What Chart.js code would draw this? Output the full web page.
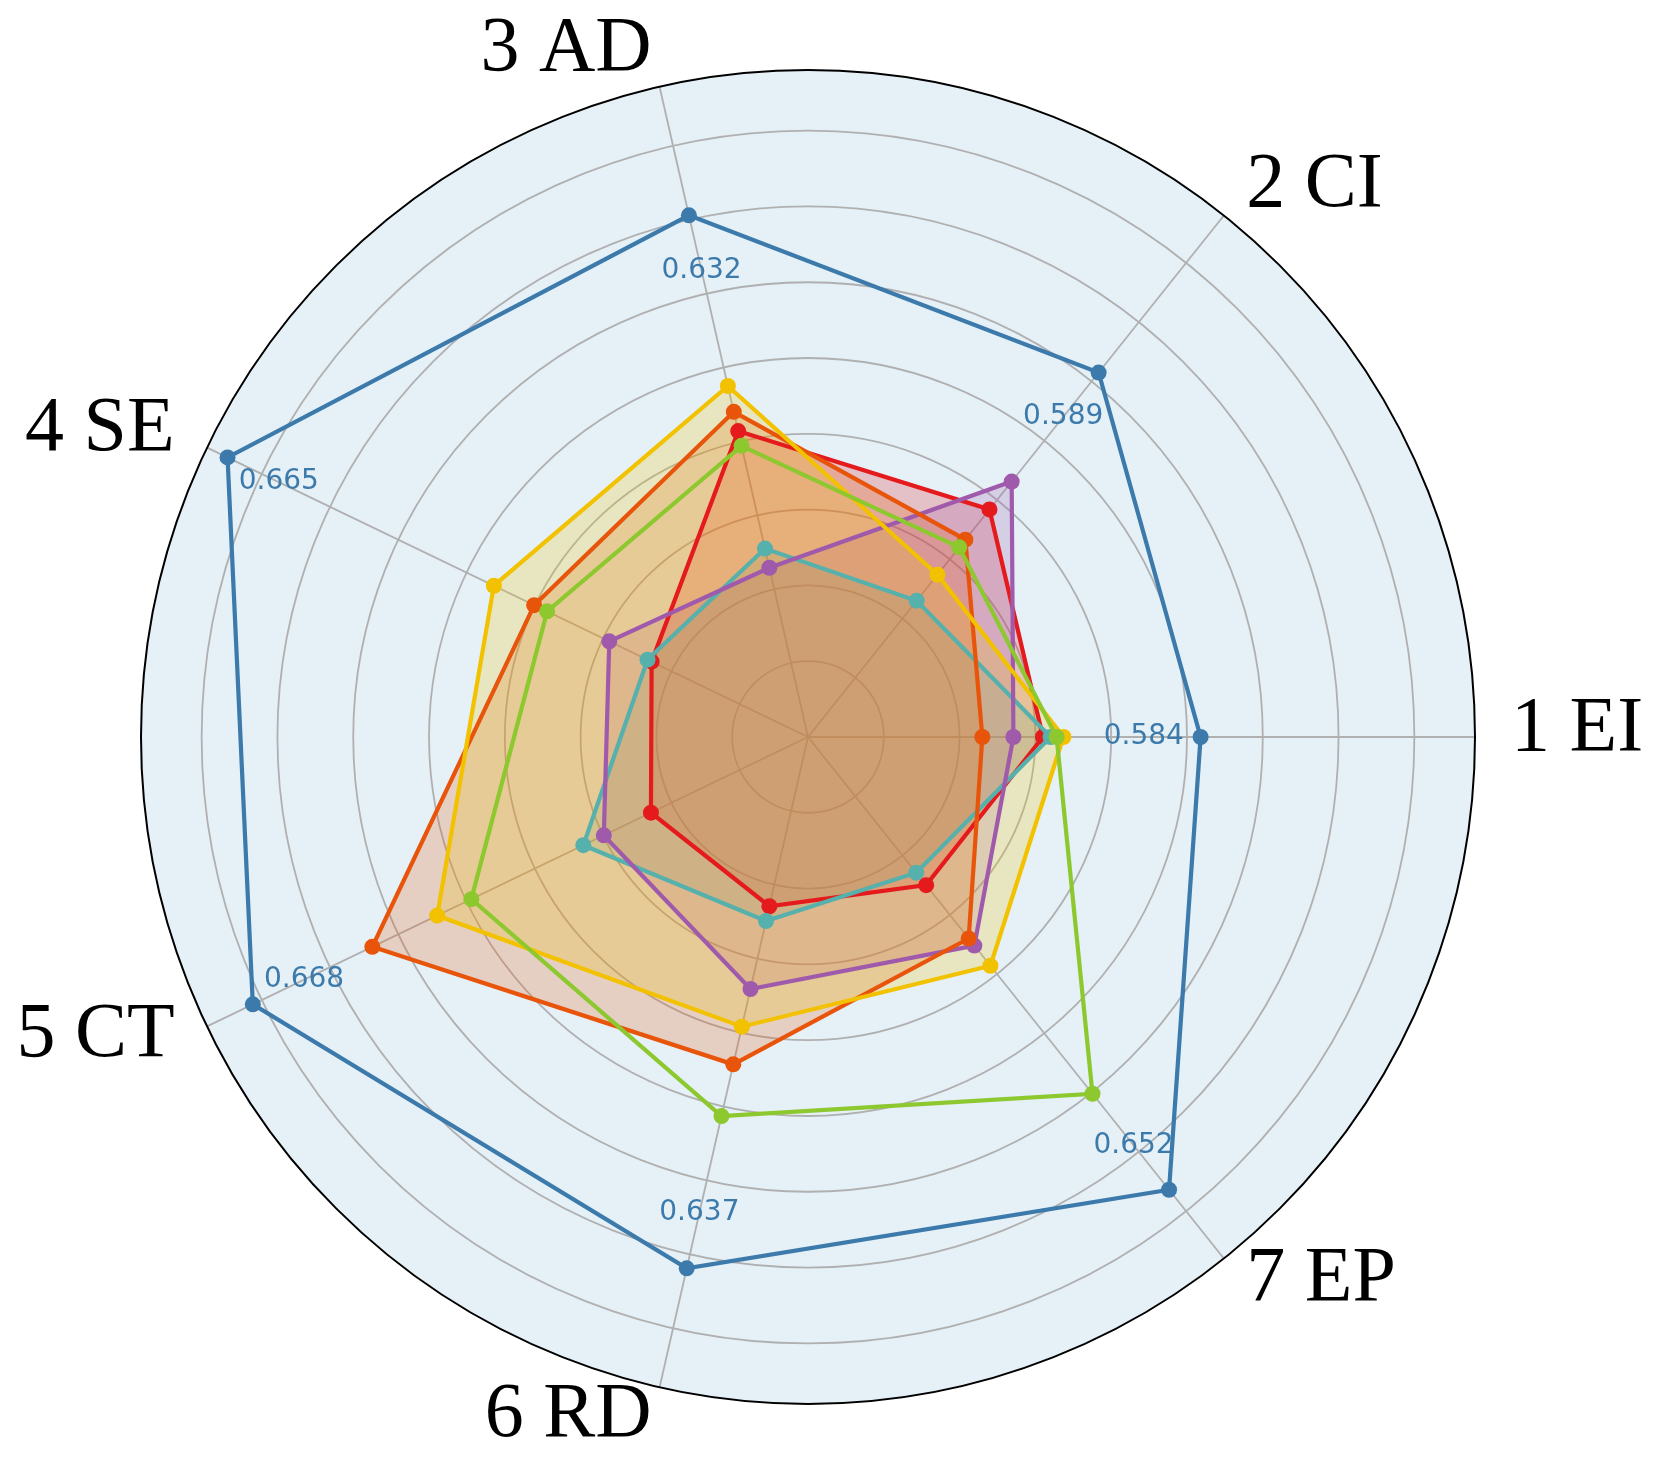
<!DOCTYPE html>
<html>
<head>
<meta charset="utf-8">
<script src="https://cdn.jsdelivr.net/npm/chart.js@4.4.1/dist/chart.umd.min.js"></script>
<style>
  html, body { margin: 0; padding: 0; background: #ffffff; }
  #wrap { position: relative; width: 1660px; height: 1474px; }
</style>
</head>
<body>
<div id="wrap"><canvas id="c"></canvas></div>
<script>
// Axis categories (counter-clockwise from the right, as in the picture)
const categories = ['1 EI', '2 CI', '3 AD', '4 SE', '5 CT', '6 RD', '7 EP'];
// Per-axis value labels shown in blue
const tickLabels = ['0.584', '0.589', '0.632', '0.665', '0.668', '0.637', '0.652'];
// Radial values (in grid-ring units), order as categories
const blueSeries   = [5.18, 6.15, 7.06, 8.50, 8.13, 7.19, 7.64];
const redSeries    = [3.10, 3.84, 4.14, 2.29, 2.30, 2.29, 2.50];
const tealSeries   = [3.20, 2.30, 2.55, 2.35, 3.29, 2.49, 2.29];
const purpleSeries = [2.71, 4.31, 2.29, 2.91, 2.99, 3.41, 3.52];
const orangeSeries = [2.30, 3.33, 4.40, 4.01, 6.38, 4.43, 3.40];
const yellowSeries = [3.37, 2.74, 4.75, 4.60, 5.43, 3.92, 3.86];
const greenSeries  = [3.28, 3.20, 3.94, 3.82, 4.93, 5.13, 6.02];
const radialMax = 8.8;
const labelInset = 0.75;

// Chart.js goes clockwise; reorder so the picture runs counter-clockwise
const chartOrder = [0, 6, 5, 4, 3, 2, 1];
const reorder = arr => chartOrder.map(i => arr[i]);

function rgba(hex, a) {
  const n = parseInt(hex.slice(1), 16);
  return `rgba(${(n >> 16) & 255},${(n >> 8) & 255},${n & 255},${a})`;
}
const seriesDefs = [
  { data: blueSeries,   color: '#3b7aab', fillA: 0,    order: 7 },
  { data: redSeries,    color: '#e41a1c', fillA: 0.22, order: 6 },
  { data: tealSeries,   color: '#56b1ad', fillA: 0.22, order: 5 },
  { data: purpleSeries, color: '#a05aab', fillA: 0.22, order: 4 },
  { data: orangeSeries, color: '#e8550a', fillA: 0.22, order: 3 },
  { data: yellowSeries, color: '#f2c200', fillA: 0.22, order: 2 },
  { data: greenSeries,  color: '#8cc82e', fillA: 0,    order: 1 },
];
const datasets = seriesDefs.map(d => ({
  data: reorder(d.data),
  borderColor: d.color,
  backgroundColor: rgba(d.color, d.fillA),
  pointBackgroundColor: d.color,
  pointBorderColor: d.color,
  pointBorderWidth: 0,
  pointRadius: 8,
  borderWidth: 4.2,
  fill: d.fillA > 0,
  order: d.order,
}));

const decor = {
  id: 'decor',
  beforeDraw(chart) {
    const s = chart.scales.r, c = chart.ctx;
    c.save();
    c.beginPath();
    c.arc(s.xCenter, s.yCenter, s.drawingArea, 0, Math.PI * 2);
    c.fillStyle = '#e5f0f7';
    c.fill();
    c.restore();
  },
  beforeDatasetsDraw(chart) {
    const s = chart.scales.r, c = chart.ctx;
    c.save();
    c.beginPath();
    c.arc(s.xCenter, s.yCenter, s.drawingArea, 0, Math.PI * 2);
    c.strokeStyle = '#000000';
    c.lineWidth = 2;
    c.stroke();
    c.restore();
  },
  afterDatasetsDraw(chart) {
    const s = chart.scales.r, c = chart.ctx;
    c.save();
    // blue value labels along each axis
    c.font = '28px "DejaVu Sans"';
    c.fillStyle = '#3b7aab';
    c.textAlign = 'center';
    c.textBaseline = 'middle';
    categories.forEach((cat, k) => {
      const ci = chartOrder.indexOf(k);
      const p = s.getPointPosition(ci, s.getDistanceFromCenterForValue(blueSeries[k] - labelInset));
      c.fillText(tickLabels[k], p.x, p.y);
    });
    // axis category labels
    c.font = '78px "Liberation Serif"';
    c.fillStyle = '#000000';
    categories.forEach((cat, k) => {
      const ci = chartOrder.indexOf(k);
      const p = s.getPointPosition(ci, s.drawingArea + 36);
      c.textAlign = p.x > s.xCenter + 1 ? 'left' : (p.x < s.xCenter - 1 ? 'right' : 'center');
      const dy = p.y < s.yCenter - 5 ? -2 : -7;
      c.fillText(cat, p.x, p.y + dy);
    });
    c.restore();
  }
};

new Chart(document.getElementById('c'), {
  type: 'radar',
  data: { labels: reorder(categories), datasets },
  options: {
    responsive: true,
    maintainAspectRatio: false,
    animation: false,
    events: [],
    layout: { padding: { left: 141, right: 185, top: 70, bottom: 70 } },
    plugins: {
      legend: { display: false },
      tooltip: { enabled: false },
      title: { display: false },
      filler: { drawTime: 'beforeDatasetsDraw' }
    },
    elements: { line: { tension: 0 } },
    scales: {
      r: {
        min: 0,
        max: radialMax,
        startAngle: 90,
        ticks: { display: false, stepSize: 1, includeBounds: false },
        grid: { circular: true, color: '#b0b0b0', lineWidth: 1.8 },
        angleLines: { color: '#b0b0b0', lineWidth: 1.8 },
        pointLabels: { display: false }
      }
    }
  },
  plugins: [decor]
});
</script>
</body>
</html>
